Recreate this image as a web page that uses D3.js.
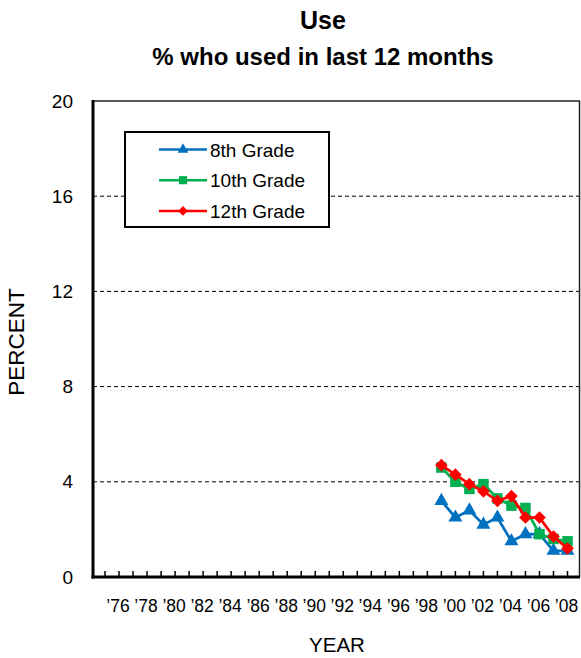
<!DOCTYPE html>
<html>
<head>
<meta charset="utf-8">
<script src="https://cdn.jsdelivr.net/npm/d3@7"></script>
<style>
    body { margin: 0; background: #fff; }
    text { font-family: Arial, "Liberation Sans", sans-serif; fill: #000; }
</style>
</head>
<body>
<script>
const YEARS   = [1999, 2000, 2001, 2002, 2003, 2004, 2005, 2006, 2007, 2008]
const GRADE8  = [3.2, 2.5, 2.8, 2.2, 2.5, 1.5, 1.8, 1.8, 1.1, 1.1]
const GRADE10 = [4.6, 4.0, 3.7, 3.9, 3.3, 3.0, 2.9, 1.8, 1.6, 1.5]
const GRADE12 = [4.7, 4.3, 3.9, 3.6, 3.2, 3.4, 2.5, 2.5, 1.7, 1.2]
const Y_TICKS = [0, 4, 8, 12, 16, 20]
const X_LABEL_YEARS = d3.range(1976, 2009, 2)

const series = [
    { name: "8th Grade",  values: GRADE8,  color: "#0070C0", symbol: d3.symbolTriangle, size: 85,  rotate: 0 },
    { name: "10th Grade", values: GRADE10, color: "#00B050", symbol: d3.symbolSquare,   size: 110, rotate: 0 },
    { name: "12th Grade", values: GRADE12, color: "#FF0000", symbol: d3.symbolSquare,   size: 80,  rotate: 45 }
]

function draw() {
    const width = 581, height = 658
    const left = 93, right = 580, top = 101, bottom = 577

    const svg = d3.select("body").append("svg")
        .attr("width", width)
        .attr("height", height)

    const x = d3.scaleLinear().domain([1975, 2008]).range([105, 567.5])
    const y = d3.scaleLinear().domain([0, 20]).range([bottom, top])

    // gridlines
    svg.append("g")
        .selectAll("line")
        .data(Y_TICKS.filter(d => d > 0 && d < 20))
        .enter()
        .append("line")
            .attr("x1", left)
            .attr("x2", right)
            .attr("y1", d => y(d))
            .attr("y2", d => y(d))
            .attr("stroke", "#000")
            .attr("stroke-width", 1)
            .attr("stroke-dasharray", "4,3")

    // frame top / right
    svg.append("line")
        .attr("x1", left).attr("x2", right).attr("y1", top).attr("y2", top)
        .attr("stroke", "#222").attr("stroke-width", 1.5)
    svg.append("line")
        .attr("x1", right - 0.5).attr("x2", right - 0.5).attr("y1", top).attr("y2", bottom)
        .attr("stroke", "#222").attr("stroke-width", 1.5)

    // y tick labels
    svg.append("g")
        .selectAll("text")
        .data(Y_TICKS)
        .enter()
        .append("text")
            .attr("x", 73)
            .attr("y", d => y(d) + 6.5)
            .attr("text-anchor", "end")
            .style("font-size", "19px")
            .text(d => d)

    // x ticks, every year, pointing up
    svg.append("g")
        .selectAll("line")
        .data(d3.range(1975, 2009))
        .enter()
        .append("line")
            .attr("x1", d => x(d))
            .attr("x2", d => x(d))
            .attr("y1", bottom)
            .attr("y2", bottom - 6)
            .attr("stroke", "#000")
            .attr("stroke-width", 1.5)

    svg.append("g")
        .selectAll("text")
        .data(X_LABEL_YEARS)
        .enter()
        .append("text")
            .attr("x", d => x(d) - 1)
            .attr("y", 612)
            .attr("text-anchor", "middle")
            .style("font-size", "17.5px")
            .text(d => "\u2019" + String(d).slice(2))

    // axes lines
    svg.append("line")
        .attr("x1", left).attr("x2", left).attr("y1", top - 1).attr("y2", bottom + 1.5)
        .attr("stroke", "#000").attr("stroke-width", 3)
    svg.append("line")
        .attr("x1", left - 1.5).attr("x2", right).attr("y1", bottom).attr("y2", bottom)
        .attr("stroke", "#000").attr("stroke-width", 3)

    // series
    const line = d3.line()
        .x((d, i) => x(YEARS[i]))
        .y(d => y(d))

    series.forEach(s => {
        const g = svg.append("g")
        g.append("path")
            .attr("d", line(s.values))
            .attr("fill", "none")
            .attr("stroke", s.color)
            .attr("stroke-width", 2.75)
        g.selectAll("path.marker")
            .data(s.values)
            .enter()
            .append("path")
                .attr("class", "marker")
                .attr("d", d3.symbol().type(s.symbol).size(s.size))
                .attr("transform", (d, i) => `translate(${x(YEARS[i])},${y(d)}) rotate(${s.rotate})`)
                .attr("fill", s.color)
    })

    // legend
    const legend = svg.append("g")
    legend.append("rect")
        .attr("x", 125)
        .attr("y", 132)
        .attr("width", 204)
        .attr("height", 95)
        .attr("fill", "#fff")
        .attr("stroke", "#000")
        .attr("stroke-width", 2)

    series.forEach((s, i) => {
        const ly = 149.5 + i * 30.7
        legend.append("line")
            .attr("x1", 159).attr("x2", 207).attr("y1", ly).attr("y2", ly)
            .attr("stroke", s.color).attr("stroke-width", 2.5)
        legend.append("path")
            .attr("d", d3.symbol().type(s.symbol).size(s.size * 0.6))
            .attr("transform", `translate(183,${ly}) rotate(${s.rotate})`)
            .attr("fill", s.color)
        legend.append("text")
            .attr("x", 210)
            .attr("y", ly + 7)
            .style("font-size", "19px")
            .text(s.name)
    })

    // titles
    svg.append("text")
        .attr("x", 323).attr("y", 29)
        .attr("text-anchor", "middle")
        .style("font-size", "25px").style("font-weight", "bold")
        .text("Use")
    svg.append("text")
        .attr("x", 323).attr("y", 65)
        .attr("text-anchor", "middle")
        .style("font-size", "24px").style("font-weight", "bold")
        .text("% who used in last 12 months")

    svg.append("text")
        .attr("x", 337).attr("y", 652)
        .attr("text-anchor", "middle")
        .style("font-size", "20.5px")
        .text("YEAR")
    svg.append("text")
        .attr("transform", "translate(24,342) rotate(-90)")
        .attr("text-anchor", "middle")
        .style("font-size", "22.5px")
        .text("PERCENT")
}

draw()
</script>
</body>
</html>
